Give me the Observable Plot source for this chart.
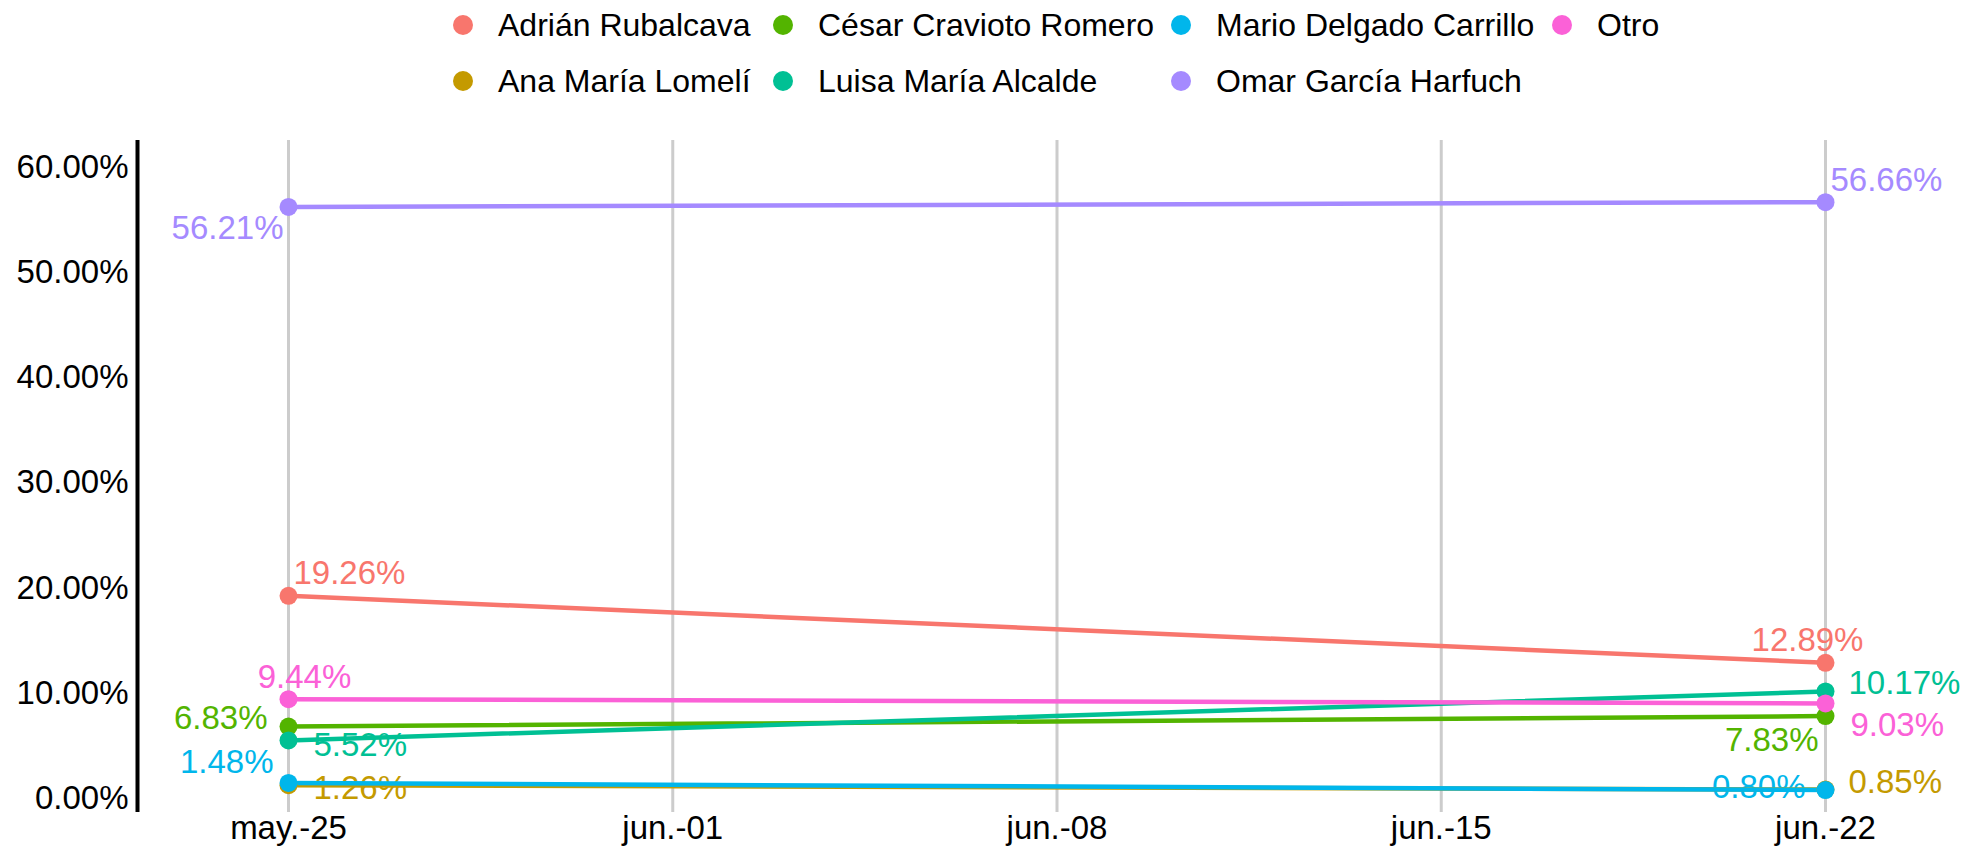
<!DOCTYPE html>
<html>
<head>
<meta charset="utf-8">
<script src="https://cdn.jsdelivr.net/npm/d3@7"></script>
<script src="https://cdn.jsdelivr.net/npm/@observablehq/plot@0.6"></script>
<style>
  html, body { margin: 0; padding: 0; background: #fff; }
  body { width: 1967px; height: 846px; overflow: hidden; font-family: "Liberation Sans", Arial, sans-serif; }
  #legend { position: relative; height: 110px; width: 1967px; }
  #legend .grid {
    position: absolute; top: -3px; left: 453px;
    display: grid; grid-auto-flow: column;
    grid-template-rows: 56px 56px;
    grid-template-columns: 320px 398px 381px auto;
  }
  #legend .item { display: flex; align-items: center; font-size: 32px; color: #000; white-space: nowrap; }
  #legend .sw { width: 20px; height: 20px; border-radius: 50%; margin-right: 25px; flex: none; }
  #chart svg { display: block; }
</style>
</head>
<body>
<div id="legend"><div class="grid"></div></div>
<div id="chart"></div>
<script>
// ---- data ----
const dates = ["2025-05-25", "2025-06-22"];
const candidates = ["Adrián Rubalcava", "Ana María Lomelí", "César Cravioto Romero", "Luisa María Alcalde", "Mario Delgado Carrillo", "Omar García Harfuch", "Otro"];
const colors = ["#F8766D", "#C49A00", "#53B400", "#00C094", "#00B6EB", "#A58AFF", "#FB61D7"];
const valuesMay25 = [19.26, 1.26, 6.83, 5.52, 1.48, 56.21, 9.44];
const valuesJun22 = [12.89, 0.85, 7.83, 10.17, 0.80, 56.66, 9.03];
const tickDates = ["2025-05-25", "2025-06-01", "2025-06-08", "2025-06-15", "2025-06-22"];
const tickLabels = ["may.-25", "jun.-01", "jun.-08", "jun.-15", "jun.-22"];
const yTicks = [0, 10, 20, 30, 40, 50, 60];

// label placement (layout only): [dx, dy, anchor] for first and last date
const labelNudges = [
  [[5, -22, "start"], [-18, -22, "middle"]],
  [[25, 3, "start"], [23, -7, "start"]],
  [[-21, -8, "end"], [-7, 24, "end"]],
  [[25, 5, "start"], [23, -8, "start"]],
  [[-15, -20, "end"], [-20, -3, "end"]],
  [[-5, 22, "end"], [5, -22, "start"]],
  [[16, -22, "middle"], [25, 22, "start"]]
];

// ---- build table ----
const parse = d3.utcParse("%Y-%m-%d");
const dateObjs = dates.map(parse);
const tickObjs = tickDates.map(parse);
const rows = [];
candidates.forEach((c, i) => {
  [valuesMay25[i], valuesJun22[i]].forEach((v, j) => {
    rows.push({candidate: c, date: dateObjs[j], value: v, nudge: labelNudges[i][j]});
  });
});

// ---- legend ----
const grid = document.querySelector("#legend .grid");
candidates.forEach((c, i) => {
  const it = document.createElement("div");
  it.className = "item";
  const sw = document.createElement("span");
  sw.className = "sw";
  sw.style.background = colors[i];
  const tx = document.createElement("span");
  tx.textContent = c;
  it.appendChild(sw); it.appendChild(tx);
  grid.appendChild(it);
});

// ---- chart ----
const width = 1967, height = 736;
const marginLeft = 137, marginRight = 0, marginTop = 30, marginBottom = 34;
const day = 864e5;
const pxPerDay = (1825 - 288) / 28;
const x0 = new Date(+dateObjs[0] - (288 - marginLeft) / pxPerDay * day);
const x1 = new Date(+dateObjs[1] + (width - marginRight - 1825) / pxPerDay * day);
const fmtPct = d => d.toFixed(2) + "%";

const labelMarks = rows.map(r => Plot.text([r], {
  x: "date", y: "value", text: d => fmtPct(d.value), fill: "candidate",
  dx: r.nudge[0], dy: r.nudge[1], textAnchor: r.nudge[2], fontSize: 33
}));

const chart = Plot.plot({
  width, height, marginLeft, marginRight, marginTop, marginBottom,
  style: {fontFamily: '"Liberation Sans", Arial, sans-serif', color: "#000", background: "#fff"},
  x: {type: "utc", domain: [x0, x1]},
  y: {domain: [-1.33, 62.52]},
  color: {domain: candidates, range: colors},
  marks: [
    Plot.gridX(tickObjs, {stroke: "#cccccc", strokeOpacity: 1, strokeWidth: 3}),
    Plot.ruleX([x0], {stroke: "#000", strokeWidth: 4}),
    Plot.axisY({ticks: yTicks, tickFormat: fmtPct, tickSize: 0, tickPadding: 9, fontSize: 33, label: null}),
    Plot.axisX({ticks: tickObjs, tickFormat: d => tickLabels[tickObjs.findIndex(t => +t === +d)], tickSize: 0, tickPadding: 3, fontSize: 33, label: null}),
    ...labelMarks,
    Plot.line(rows, {x: "date", y: "value", z: "candidate", stroke: "candidate", strokeWidth: 4.5}),
    Plot.dot(rows, {x: "date", y: "value", fill: "candidate", r: 9})
  ]
});
document.getElementById("chart").appendChild(chart);
</script>
</body>
</html>
